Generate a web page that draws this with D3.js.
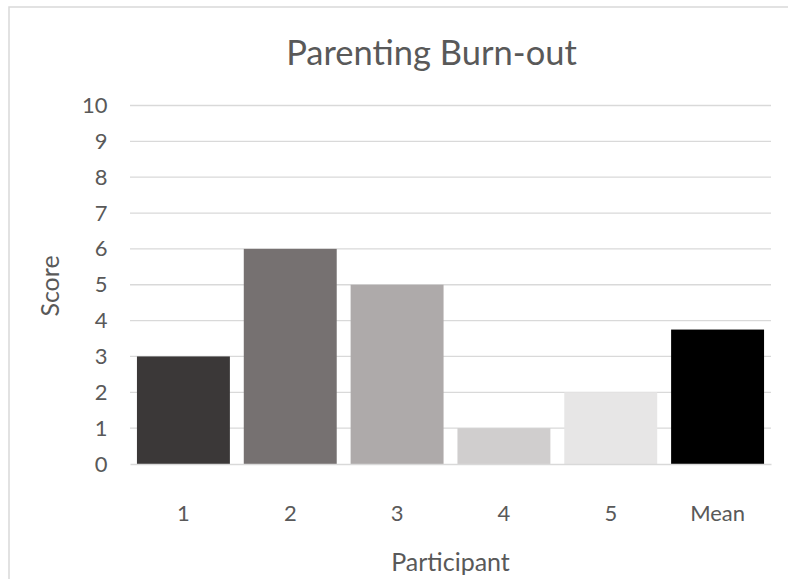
<!DOCTYPE html>
<html>
<head>
<meta charset="utf-8">
<script src="https://cdn.jsdelivr.net/npm/d3@7"></script>
<style>
  html, body { margin: 0; padding: 0; background: #fff; }
  svg { display: block; }
  text { font-family: Lato, "Open Sans", sans-serif; fill: #595959; }
</style>
</head>
<body>
<svg id="chart" width="788" height="579"></svg>
<script>
// Burn-out scores per participant, plus the group mean
const participants = ["1", "2", "3", "4", "5", "Mean"];
const scores = [3, 6, 5, 1, 2, 3.75];
const barColors = ["#3b3838", "#767171", "#aeaaaa", "#d0cece", "#e7e6e6", "#000000"];
const yTicks = [0, 1, 2, 3, 4, 5, 6, 7, 8, 9, 10];

const svg = d3.select("#chart");

// chart frame
svg.append("rect")
  .attr("x", 9).attr("y", 7)
  .attr("width", 800).attr("height", 600)
  .attr("fill", "#fff")
  .attr("stroke", "#d9d9d9")
  .attr("stroke-width", 1.5);

const plot = { left: 130, right: 771, top: 105.5, bottom: 464 };

const x = d3.scaleBand()
  .domain(participants)
  .range([plot.left, plot.right])
  .paddingInner(0.13)
  .paddingOuter(0.065);

const y = d3.scaleLinear()
  .domain([0, 10])
  .range([plot.bottom, plot.top]);

// horizontal gridlines
svg.append("g")
  .selectAll("line")
  .data(yTicks.filter(d => d > 0))
  .join("line")
  .attr("x1", plot.left).attr("x2", plot.right)
  .attr("y1", d => y(d)).attr("y2", d => y(d))
  .attr("stroke", "#d9d9d9")
  .attr("stroke-width", 1.3);

// bars
svg.append("g")
  .selectAll("rect")
  .data(participants)
  .join("rect")
  .attr("x", d => x(d))
  .attr("width", x.bandwidth())
  .attr("y", (d, i) => y(scores[i]))
  .attr("height", (d, i) => y(0) - y(scores[i]))
  .attr("fill", (d, i) => barColors[i]);

// y axis labels
const yAxis = d3.axisLeft(y).tickValues(yTicks).tickSize(0).tickPadding(0).tickFormat(d3.format("d"));
const gy = svg.append("g")
  .attr("transform", `translate(${plot.left - 22.5},0)`)
  .call(yAxis);
gy.select(".domain").remove();
gy.selectAll("text")
  .style("font-family", "Lato, 'Open Sans', sans-serif")
  .style("font-size", "22px")
  .attr("fill", "#595959");

// x axis
const xAxis = d3.axisBottom(x).tickSize(0).tickPadding(0);
const gx = svg.append("g")
  .attr("transform", `translate(0,${plot.bottom})`)
  .call(xAxis);
gx.select(".domain")
  .attr("stroke", "#d9d9d9")
  .attr("stroke-width", 1.5);
gx.selectAll("text")
  .style("font-family", "Lato, 'Open Sans', sans-serif")
  .style("font-size", "22px")
  .attr("fill", "#595959")
  .attr("dy", null)
  .attr("y", 57);

// title
svg.append("text")
  .attr("x", 431.5).attr("y", 65)
  .attr("text-anchor", "middle")
  .style("font-size", "34.5px")
  .text("Parenting Burn-out");

// axis titles
svg.append("text")
  .attr("x", (plot.left + plot.right) / 2).attr("y", 571)
  .attr("text-anchor", "middle")
  .style("font-size", "25px")
  .text("Participant");

svg.append("text")
  .attr("transform", "translate(59,286) rotate(-90)")
  .attr("text-anchor", "middle")
  .style("font-size", "25px")
  .text("Score");
</script>
</body>
</html>
